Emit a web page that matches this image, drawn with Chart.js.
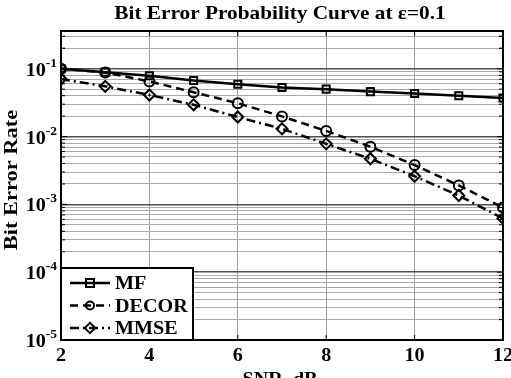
<!DOCTYPE html>
<html>
<head>
<meta charset="utf-8">
<script src="https://cdn.jsdelivr.net/npm/chart.js@4.4.1/dist/chart.umd.min.js"></script>
<style>
  html, body { margin: 0; padding: 0; background: #fff; }
  #wrap { width: 511px; height: 378px; }
</style>
</head>
<body>
<div id="wrap"><canvas id="berChart" width="511" height="378"></canvas></div>
<script>
// data
const snr = [2, 3, 4, 5, 6, 7, 8, 9, 10, 11, 12];
const mf = [0.100, 0.089, 0.079, 0.067, 0.059, 0.053, 0.050, 0.046, 0.043, 0.040, 0.037];
const decor = [0.100, 0.088, 0.065, 0.045, 0.031, 0.0198, 0.0121, 0.0071, 0.0038, 0.0019, 0.00090];
const mmse = [0.0705, 0.055, 0.041, 0.0294, 0.0194, 0.013, 0.0078, 0.0047, 0.0026, 0.00135, 0.00062];

const xTicks = [2, 4, 6, 8, 10, 12];
const decades = [-1, -2, -3, -4, -5];
const seriesNames = ['MF', 'DECOR', 'MMSE'];

const FONT = "'Liberation Serif', 'Times New Roman', serif";
const SX = 1.12; // the text in the picture is a bit wide

function pts(vals) {
    return snr.map((x, i) => ({ x: x, y: vals[i] }));
}

// grid lines for log axis: every m*10^k
function logGridTicks() {
    const t = [];
    for (let k = -5; k <= -1; k++) {
        for (let m = 1; m <= 9; m++) {
            const v = m * Math.pow(10, k);
            if (v <= 0.36) t.push({ value: v });
        }
    }
    t.push({ value: 0.2 }, { value: 0.3 });
    return t;
}

function isDecade(v) {
    const l = Math.log10(v);
    return Math.abs(l - Math.round(l)) < 1e-9;
}

function wideText(ctx, txt, x, y, align) {
    ctx.save();
    ctx.translate(x, y);
    ctx.scale(SX, 1);
    ctx.textAlign = align;
    ctx.fillText(txt, 0, 0);
    ctx.restore();
}

function marker(ctx, style, x, y, r) {
    ctx.beginPath();
    if (style === 'rect') {
        ctx.rect(x - r, y - r, 2 * r, 2 * r);
    } else if (style === 'circle') {
        ctx.arc(x, y, r, 0, Math.PI * 2);
    } else {
        ctx.moveTo(x, y - r * 1.3);
        ctx.lineTo(x + r * 1.3, y);
        ctx.lineTo(x, y + r * 1.3);
        ctx.lineTo(x - r * 1.3, y);
        ctx.closePath();
    }
    ctx.stroke();
}

// texts, box, inner ticks and legend
const decorations = {
    id: 'decorations',
    afterDraw(chart) {
        const ctx = chart.ctx;
        const a = chart.chartArea;
        const xs = chart.scales.x, ys = chart.scales.y;
        ctx.save();
        ctx.fillStyle = '#000';
        ctx.strokeStyle = '#000';
        ctx.textBaseline = 'alphabetic';

        // inner tick marks
        ctx.lineWidth = 1;
        ctx.setLineDash([]);
        ys.ticks.forEach(t => {
            const y = ys.getPixelForValue(t.value);
            const len = isDecade(t.value) ? 6 : 4;
            ctx.beginPath();
            ctx.moveTo(a.left, y); ctx.lineTo(a.left + len, y);
            ctx.moveTo(a.right, y); ctx.lineTo(a.right - len, y);
            ctx.stroke();
        });
        xTicks.forEach(v => {
            const x = xs.getPixelForValue(v);
            ctx.beginPath();
            ctx.moveTo(x, a.top); ctx.lineTo(x, a.top + 5);
            ctx.moveTo(x, a.bottom); ctx.lineTo(x, a.bottom - 5);
            ctx.stroke();
        });

        // box
        ctx.lineWidth = 2;
        ctx.strokeRect(a.left, a.top, a.right - a.left, a.bottom - a.top);

        // title
        ctx.font = 'bold 19px ' + FONT;
        wideText(ctx, 'Bit Error Probability Curve at \u03b5=0.1', 280, 19, 'center');

        // x tick labels
        ctx.font = 'bold 18px ' + FONT;
        xTicks.forEach(v => {
            wideText(ctx, String(v), xs.getPixelForValue(v), a.bottom + 21, 'center');
        });

        // x title
        ctx.font = 'bold 18px ' + FONT;
        wideText(ctx, 'SNR, dB', 280, a.bottom + 45, 'center');

        // y tick labels 10^k
        decades.forEach(k => {
            const y = ys.getPixelForValue(Math.pow(10, k));
            ctx.font = 'bold 12px ' + FONT;
            const sup = String(k);
            const ws = ctx.measureText(sup).width * SX;
            const bx = a.left - 4 - ws;
            wideText(ctx, sup, bx, y - 2, 'left');
            ctx.font = 'bold 18px ' + FONT;
            wideText(ctx, '10', bx, y + 7, 'right');
        });

        // y title
        ctx.save();
        ctx.translate(17, 180);
        ctx.rotate(-Math.PI / 2);
        ctx.scale(1.18, 1);
        ctx.textAlign = 'center';
        ctx.font = 'bold 19px ' + FONT;
        ctx.fillText('Bit Error Rate', 0, 0);
        ctx.restore();

        // legend
        const lx = a.left, ly = a.bottom - 72, lw = 132, lh = 72;
        ctx.fillStyle = '#fff';
        ctx.fillRect(lx, ly, lw, lh);
        ctx.lineWidth = 2;
        ctx.strokeRect(lx, ly, lw, lh);
        chart.data.datasets.forEach((ds, i) => {
            const y = ly + 15 + i * 22.5;
            ctx.strokeStyle = '#000';
            ctx.lineWidth = 2.5;
            ctx.setLineDash(ds.borderDash || []);
            ctx.beginPath();
            ctx.moveTo(lx + 9, y); ctx.lineTo(lx + 49, y);
            ctx.stroke();
            ctx.setLineDash([]);
            ctx.lineWidth = 2;
            marker(ctx, ds.pointStyle, lx + 29, y, 4);
            ctx.fillStyle = '#000';
            ctx.font = 'bold 18px ' + FONT;
            wideText(ctx, ds.label, lx + 54, y + 6, 'left');
        });
        ctx.restore();
    }
};

const config = {
    type: 'line',
    data: {
        datasets: [
            {
                label: seriesNames[0],
                data: pts(mf),
                borderColor: '#000',
                borderWidth: 2.5,
                pointStyle: 'rect',
                pointRadius: 5,
                pointBorderWidth: 2,
                pointBorderColor: '#000',
                pointBackgroundColor: 'rgba(0,0,0,0)'
            },
            {
                label: seriesNames[1],
                data: pts(decor),
                borderColor: '#000',
                borderWidth: 2.5,
                borderDash: [8, 5],
                pointStyle: 'circle',
                pointRadius: 5,
                pointBorderWidth: 2,
                pointBorderColor: '#000',
                pointBackgroundColor: 'rgba(0,0,0,0)'
            },
            {
                label: seriesNames[2],
                data: pts(mmse),
                borderColor: '#000',
                borderWidth: 2.5,
                borderDash: [9, 4, 2, 4],
                pointStyle: 'rectRot',
                pointRadius: 5.5,
                pointBorderWidth: 2,
                pointBorderColor: '#000',
                pointBackgroundColor: 'rgba(0,0,0,0)'
            }
        ]
    },
    options: {
        responsive: false,
        animation: false,
        layout: {
            padding: { left: 61, right: 8, top: 31, bottom: 38 }
        },
        plugins: {
            legend: { display: false },
            title: { display: false },
            tooltip: { enabled: false }
        },
        scales: {
            x: {
                type: 'linear',
                min: 2,
                max: 12,
                ticks: { display: false, stepSize: 2 },
                grid: { color: '#a0a0a0', lineWidth: 1, drawTicks: false },
                border: { display: false }
            },
            y: {
                type: 'logarithmic',
                min: 1e-5,
                max: 0.36,
                afterBuildTicks: axis => { axis.ticks = logGridTicks(); },
                ticks: { display: false },
                grid: {
                    drawTicks: false,
                    color: ctx => isDecade(ctx.tick.value) ? '#505050' : '#a8a8a8',
                    lineWidth: ctx => isDecade(ctx.tick.value) ? 1.5 : 1
                },
                border: { display: false }
            }
        }
    },
    plugins: [decorations]
};

const berChart = new Chart(document.getElementById('berChart'), config);
</script>
</body>
</html>
